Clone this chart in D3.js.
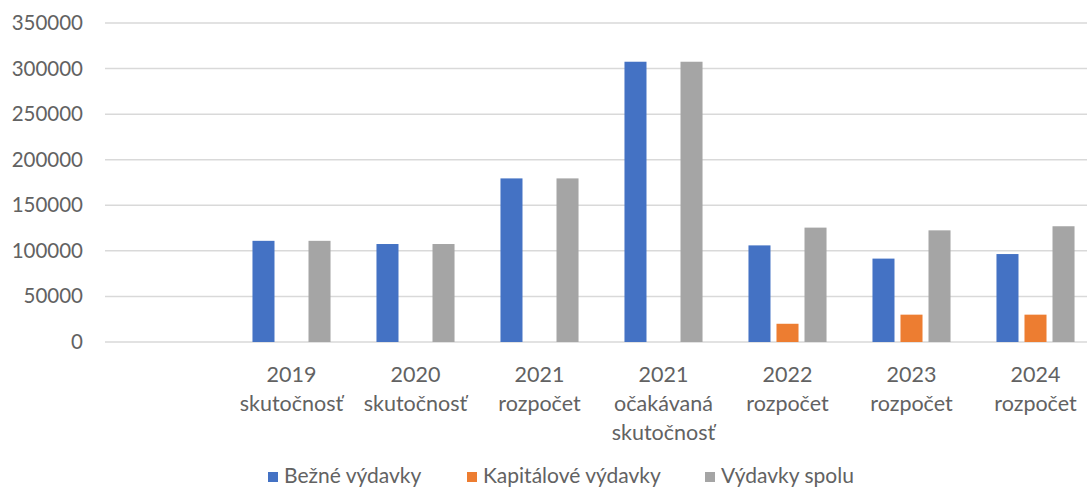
<!DOCTYPE html>
<html>
<head>
<meta charset="utf-8">
<script src="https://cdn.jsdelivr.net/npm/d3@7/dist/d3.min.js"></script>
<style>
  html, body { margin: 0; padding: 0; background: #fff; }
  svg { display: block; }
  text { font-family: Lato, "Open Sans", sans-serif; fill: #626262; }
</style>
</head>
<body>
<svg id="chart" width="1087" height="495"></svg>
<script>
// ---- data ----
const categories = [
  [""],
  ["2019", "skutočnosť"],
  ["2020", "skutočnosť"],
  ["2021", "rozpočet"],
  ["2021", "očakávaná", "skutočnosť"],
  ["2022", "rozpočet"],
  ["2023", "rozpočet"],
  ["2024", "rozpočet"]
];
const seriesNames = ["Bežné výdavky", "Kapitálové výdavky", "Výdavky spolu"];
const bezne      = [null, 111000, 107500, 179500, 307500, 106000, 91500, 96500];
const kapitalove = [null, null,   null,   null,   null,   20000,  30000, 30000];
const spolu      = [null, 111000, 107500, 179500, 307500, 125500, 122500, 127000];
const yTicks = [0, 50000, 100000, 150000, 200000, 250000, 300000, 350000];
const colors = ["#4472C4", "#ED7D31", "#A5A5A5"];

const values = [bezne, kapitalove, spolu];

const svg = d3.select("#chart");
const W = 1087;

const catIdx = categories.map((d, i) => i);
const x0 = d3.scaleBand().domain(catIdx).range([105.5, 1097.5]).paddingInner(0).paddingOuter(0);
const x1 = d3.scaleBand().domain(seriesNames).range([0, x0.bandwidth()])
  .paddingInner(0.214).paddingOuter(0.82);
const y = d3.scaleLinear().domain([0, 350000]).range([342, 23]);

// gridlines
svg.append("g").selectAll("line").data(yTicks).join("line")
  .attr("x1", 105).attr("x2", W)
  .attr("y1", d => y(d)).attr("y2", d => y(d))
  .attr("stroke", "#D9D9D9").attr("stroke-width", 1.5);

// y axis labels
const yAxis = d3.axisLeft(y).tickValues(yTicks).tickSize(0).tickPadding(0).tickFormat(d3.format("d"));
const gy = svg.append("g").attr("transform", "translate(83,0)").call(yAxis);
gy.select(".domain").remove();
gy.selectAll("text").attr("font-size", 20.5).attr("fill", "#626262")
  .style("font-family", "Lato, 'Open Sans', sans-serif");

// bars
seriesNames.forEach((s, si) => {
  svg.append("g").selectAll("rect")
    .data(catIdx.filter(i => values[si][i] != null))
    .join("rect")
    .attr("x", i => x0(i) + x1(s))
    .attr("width", x1.bandwidth())
    .attr("y", i => y(values[si][i]))
    .attr("height", i => y(0) - y(values[si][i]))
    .attr("fill", colors[si]);
});

// category labels
const gx = svg.append("g");
categories.forEach((lines, i) => {
  const t = gx.append("text")
    .attr("text-anchor", "middle")
    .attr("font-size", 21.5);
  lines.forEach((ln, li) => {
    t.append("tspan")
      .attr("x", x0(i) + x0.bandwidth() / 2)
      .attr("y", 382 + li * 29)
      .text(ln);
  });
});

// legend
const legendX = [268, 467, 705];
const lg = svg.append("g");
seriesNames.forEach((s, si) => {
  lg.append("rect").attr("x", legendX[si]).attr("y", 472).attr("width", 10).attr("height", 10)
    .attr("fill", colors[si]);
  lg.append("text").attr("x", legendX[si] + 16).attr("y", 483)
    .attr("font-size", 21).text(s);
});
</script>
</body>
</html>
